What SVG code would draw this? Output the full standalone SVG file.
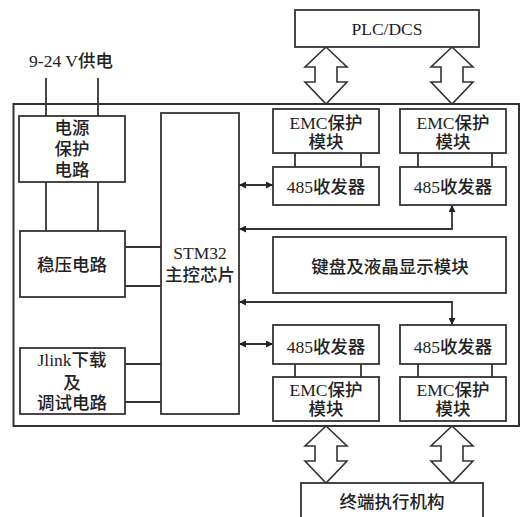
<svg xmlns="http://www.w3.org/2000/svg" width="527" height="517" viewBox="0 0 527 517">
<defs>
<marker id="ah" viewBox="0 0 10 10" refX="10" refY="5" markerWidth="8" markerHeight="7" markerUnits="userSpaceOnUse" orient="auto-start-reverse">
<path d="M0,0 L10,5 L0,10 Z" fill="#222"/>
</marker>
</defs>
<style>
rect{fill:#fff;stroke:#333;stroke-width:1.8}
.frame{fill:none;stroke:#333;stroke-width:2}
.ln{fill:none;stroke:#333;stroke-width:1.8}
.dbl{fill:#fff;stroke:#333;stroke-width:1.6;stroke-linejoin:miter}
text{font-family:"Liberation Serif","Noto Sans CJK SC",serif;font-size:17.5px;font-weight:500;fill:#222;text-anchor:middle}
</style>
<rect class="frame" x="13.5" y="104" width="505.5" height="322"/>
<g id="connectors">
<path class="ln" d="M46,78 V116 M98,78 V116"/>
<path class="ln" d="M46,182 V231 M98,182 V231"/>
<path class="ln" d="M125,247 H161 M125,286 H161"/>
<path class="ln" d="M125,364 H161 M125,402 H161"/>
<path class="ln" d="M295,153 V167 M361,153 V167 M418,153 V167 M492,153 V167"/>
<path class="ln" d="M295,364 V377 M361,364 V377 M418,364 V377 M492,364 V377"/>
<path class="ln" d="M239,185 H273" marker-start="url(#ah)" marker-end="url(#ah)"/>
<path class="ln" d="M239,344 H273" marker-start="url(#ah)" marker-end="url(#ah)"/>
<path class="ln" d="M239,229 H452 V205" marker-start="url(#ah)" marker-end="url(#ah)"/>
<path class="ln" d="M239,302 H452 V325" marker-start="url(#ah)" marker-end="url(#ah)"/>
<path class="dbl" d="M326,47 L347,67 L337,67 L337,82 L347,82 L326,104 L305,82 L315,82 L315,67 L305,67 Z"/>
<path class="dbl" d="M452,47 L473,67 L463,67 L463,82 L473,82 L452,104 L431,82 L441,82 L441,67 L431,67 Z"/>
<path class="dbl" d="M326,426 L347,446 L337,446 L337,461 L347,461 L326,483 L305,461 L315,461 L315,446 L305,446 Z"/>
<path class="dbl" d="M452,426 L473,446 L463,446 L463,461 L473,461 L452,483 L431,461 L441,461 L441,446 L431,446 Z"/>
</g>
<text x="71" y="67">9-24 V供电</text>
<g id="power"><rect x="19" y="116" width="106" height="66"/>
<text x="72" y="134">电源</text><text x="72" y="155">保护</text><text x="72" y="176">电路</text></g>
<g id="regulator"><rect x="20" y="231" width="105" height="66"/>
<text x="72" y="271">稳压电路</text></g>
<g id="jlink"><rect x="20" y="348" width="105" height="66"/>
<text x="72" y="366">Jlink下载</text><text x="72" y="389">及</text><text x="72" y="409">调试电路</text></g>
<g id="stm32"><rect x="161" y="113" width="78" height="301"/>
<text x="200" y="259">STM32</text><text x="200" y="281">主控芯片</text></g>
<g id="plc"><rect x="295" y="10" width="184" height="37"/><text x="387" y="35">PLC/DCS</text></g>
<g id="emc1"><rect x="273" y="109" width="106" height="44"/><text x="326" y="129">EMC保护</text><text x="326" y="148">模块</text></g>
<g id="emc2"><rect x="400" y="109" width="106" height="44"/><text x="453" y="129">EMC保护</text><text x="453" y="148">模块</text></g>
<g id="rs1"><rect x="273" y="167" width="106" height="38"/><text x="326" y="193">485收发器</text></g>
<g id="rs2"><rect x="400" y="167" width="106" height="38"/><text x="453" y="193">485收发器</text></g>
<g id="kbd"><rect x="273" y="237" width="233" height="56"/><text x="390" y="273">键盘及液晶显示模块</text></g>
<g id="rs3"><rect x="273" y="325" width="106" height="39"/><text x="326" y="353">485收发器</text></g>
<g id="rs4"><rect x="400" y="325" width="106" height="39"/><text x="453" y="353">485收发器</text></g>
<g id="emc3"><rect x="273" y="377" width="106" height="44"/><text x="326" y="396">EMC保护</text><text x="326" y="415">模块</text></g>
<g id="emc4"><rect x="400" y="377" width="106" height="44"/><text x="453" y="396">EMC保护</text><text x="453" y="415">模块</text></g>
<g id="actuator"><rect x="301" y="483" width="182" height="40"/><text x="392" y="508">终端执行机构</text></g>
</svg>
